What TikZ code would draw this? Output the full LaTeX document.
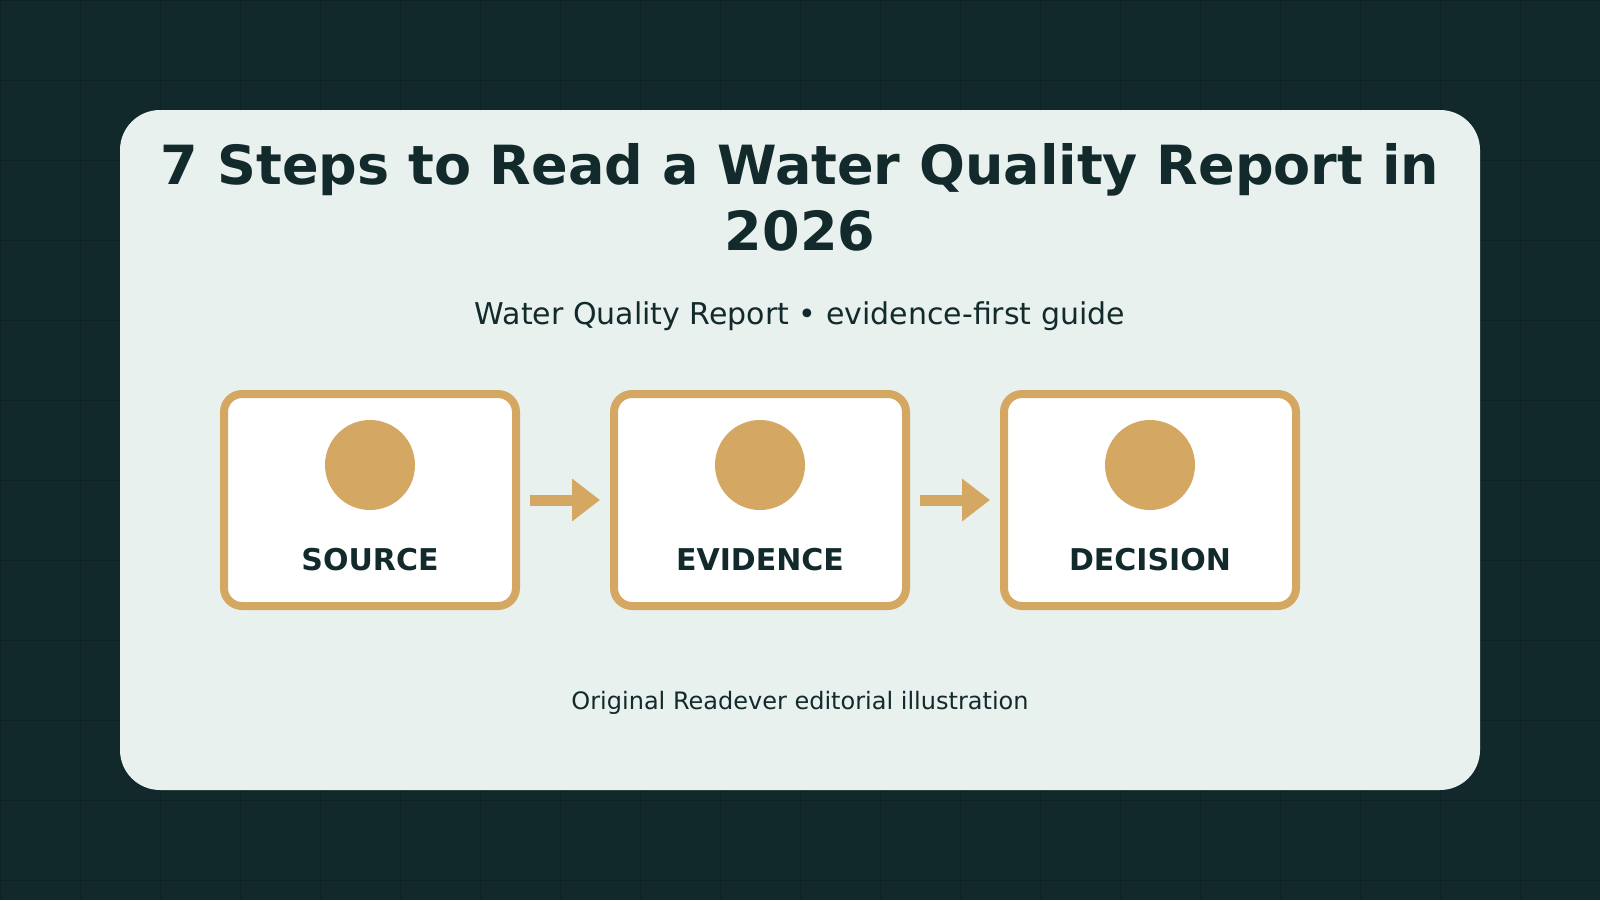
\documentclass[tikz,border=0pt]{standalone}
\usepackage{fontspec}
\setmainfont{DejaVu Sans}
\usepackage{xcolor}
\usepackage{tikz}
\usetikzlibrary{arrows.meta, positioning, calc}

\definecolor{pagebg}{HTML}{12292B}
\definecolor{gridln}{HTML}{0D2224}
\definecolor{cardbg}{HTML}{E8F1EE}
\definecolor{gold}{HTML}{D4A862}
\definecolor{ink}{HTML}{122A2B}

\tikzset{
  stepbox/.style={draw=gold, line width=8pt, fill=white, rounded corners=18pt,
    minimum width=292pt, minimum height=212pt, inner sep=0pt},
  dot/.style={circle, fill=gold, minimum size=90pt, inner sep=0pt},
  steplabel/.style={anchor=base, text=ink, font=\fontsize{30}{36}\selectfont\bfseries},
  flow/.style={gold, line width=11pt, -{Triangle[length=28pt,width=41pt]},
    shorten <=10pt, shorten >=10pt}
}

\begin{document}
\begin{tikzpicture}[x=1pt, y=-1pt]
  \useasboundingbox (0,0) rectangle (1600,900);

  % Background with grid
  \fill[pagebg] (0,0) rectangle (1600,900);
  \foreach \gx in {0,80,...,1600}
    \draw[gridln, line width=1pt] (\gx,0) -- (\gx,900);
  \foreach \gy in {0,80,...,880}
    \draw[gridln, line width=1pt] (0,\gy) -- (1600,\gy);

  % Card
  \fill[cardbg, rounded corners=40pt] (120,110) rectangle (1480,790);

  % Title and subtitle
  \node[anchor=base, align=center, text=ink,
        font=\fontsize{54}{66.7}\selectfont\bfseries] (title) at (800,250.7)
    {7 Steps to Read a Water Quality Report in\\2026};
  \node[anchor=base, text=ink, font=\fontsize{30}{36}\selectfont] (subtitle) at (800,324)
    {Water Quality Report • evidence-first guide};

  % Step boxes
  \node[stepbox] (src) at (370,500) {};
  \node[stepbox] (evd) at (760,500) {};
  \node[stepbox] (dec) at (1150,500) {};

  % Dots
  \node[dot] (srcdot) at ($(src.center)+(0,-35)$) {};
  \node[dot] (evddot) at ($(evd.center)+(0,-35)$) {};
  \node[dot] (decdot) at ($(dec.center)+(0,-35)$) {};

  % Labels
  \node[steplabel] (srclbl) at ($(src.center)+(0,70)$) {SOURCE};
  \node[steplabel] (evdlbl) at ($(evd.center)+(0,70)$) {EVIDENCE};
  \node[steplabel] (declbl) at ($(dec.center)+(0,70)$) {DECISION};

  % Arrows
  \draw[flow] (src.east) -- (evd.west);
  \draw[flow] (evd.east) -- (dec.west);

  % Footer
  \node[anchor=base, text=ink, font=\fontsize{24}{29}\selectfont] (footer) at (800,709)
    {Original Readever editorial illustration};
\end{tikzpicture}
\end{document}
